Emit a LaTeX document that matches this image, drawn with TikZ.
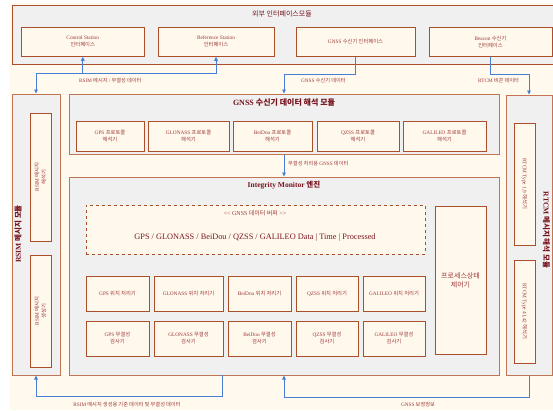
\documentclass[tikz,border=0pt]{standalone}
\usepackage{fontspec}
\setmainfont{Liberation Serif}
\newfontfamily\kr{Noto Sans CJK KR}
\usetikzlibrary{arrows.meta}
\definecolor{bgcream}{RGB}{255,249,238}
\definecolor{modfill}{RGB}{240,240,240}
\definecolor{modline}{RGB}{192,118,85}
\definecolor{boxline}{RGB}{172,78,42}
\definecolor{boxfill}{RGB}{255,248,236}
\definecolor{titlecol}{RGB}{118,18,28}
\definecolor{txtcol}{RGB}{158,58,58}
\definecolor{bluec}{RGB}{72,125,212}
\newcommand\K[1]{{\kr #1}}
\newcommand\placebox[7]{\node[#1, minimum width={(#5-#3)*1pt}, minimum height={(#6-#4)*1pt}] (#2) at ({(#3+#5)/2},{(#4+#6)/2}) {#7};}
\tikzset{
  module/.style={draw=modline, fill=modfill, line width=1pt, inner sep=0pt},
  topmodule/.style={module, draw=boxline},
  ibox/.style={draw=boxline, fill=boxfill, line width=0.9pt, inner sep=0pt, align=center, text=txtcol, font=\fontsize{5.3}{7}\selectfont},
  bigbox/.style={ibox, font=\fontsize{7}{9}\selectfont},
  bufbox/.style={draw=boxline, fill=boxfill, line width=0.7pt, dashed, inner sep=0pt},
  modtitle/.style={text=titlecol, font=\fontsize{7.5}{9}\selectfont\bfseries, inner sep=0pt},
  conn/.style={draw=bluec, line width=0.8pt, -{Triangle[length=4pt,width=3.6pt]}},
  conn2/.style={draw=bluec, line width=0.8pt, {Triangle[length=4pt,width=3.6pt]}-{Triangle[length=4pt,width=3.6pt]}},
  lbl/.style={text=txtcol, font=\fontsize{5.2}{6}\selectfont, inner sep=0pt}
}
\begin{document}
\begin{tikzpicture}[x=1pt,y=-1pt]
\useasboundingbox (0,0) rectangle (553,410);
\clip (0,0) rectangle (553,410);
\fill[bgcream] (10,3) rectangle (553,410);

% top external interface module
\placebox{topmodule}{ext}{12}{5}{560}{64}{}
\node[text=titlecol, font=\fontsize{7}{8}\selectfont, inner sep=0pt] (exttitle) at (282,14) {\K{외부 인터페이스모듈}};
\placebox{ibox}{ctrlif}{21.5}{27}{144}{56.4}{Control Station\\\K{인터페이스}}
\placebox{ibox}{refif}{158}{27}{274}{56.4}{Reference Station\\\K{인터페이스}}
\placebox{ibox}{gnssif}{296}{27}{415}{56.4}{GNSS \K{수신기 인터페이스}}
\placebox{ibox}{beaconif}{429}{27}{552}{56.4}{Beacon \K{수신기}\\\K{인터페이스}}

% RSIM module
\placebox{module}{rsimmod}{12}{94}{60}{375}{}
\node[modtitle, rotate=90] (rsimtitle) at (18,234) {RSIM \K{메시지 모듈}};
\node[ibox, rotate=90, minimum width=128pt, minimum height=21pt] (rsimdec) at (40.5,177) {RSIM \K{메시지}\\\K{해석기}};
\node[ibox, rotate=90, minimum width=112pt, minimum height=21pt] (rsimgen) at (40.5,311) {RSIM \K{메시지}\\\K{생성기}};

% RTCM module
\placebox{module}{rtcmmod}{506}{95}{552}{375}{}
\node[modtitle, rotate=-90] (rtcmtitle) at (546.5,230) {RTCM \K{메시지 해석 모듈}};
\node[ibox, rotate=-90, minimum width=122pt, minimum height=21pt] (rtcm19) at (524.5,184) {RTCM Type 1,9 \K{해석기}};
\node[ibox, rotate=-90, minimum width=103pt, minimum height=21pt] (rtcm4142) at (524.5,311.5) {RTCM Type 41,42 \K{해석기}};

% GNSS parsing module
\placebox{module}{parse}{69}{94}{499}{154}{}
\node[modtitle, font=\fontsize{8}{9}\selectfont\bfseries] (parsetitle) at (284,103) {GNSS \K{수신기 데이터 해석 모듈}};
\placebox{ibox}{pgps}{76}{121}{144}{151}{GPS \K{프로토콜}\\\K{해석기}}
\placebox{ibox}{pglo}{148}{121}{229}{151}{GLONASS \K{프로토콜}\\\K{해석기}}
\placebox{ibox}{pbds}{233}{121}{312}{151}{BeiDou \K{프로토콜}\\\K{해석기}}
\placebox{ibox}{pqzs}{317}{121}{399}{151}{QZSS \K{프로토콜}\\\K{해석기}}
\placebox{ibox}{pgal}{403}{121}{486}{151}{GALILEO \K{프로토콜}\\\K{해석기}}

% Integrity monitor
\placebox{module}{integ}{69}{177}{499}{375}{}
\node[modtitle] (integtitle) at (284,185) {Integrity Monitor \K{엔진}};
\placebox{bufbox}{buffer}{86}{205}{425}{254}{}
\node[lbl, font=\fontsize{6}{7}\selectfont] (buftitle) at (255,213) {<\kern0pt< GNSS \K{데이터 버퍼} >\kern0pt>};
\node[lbl, text=titlecol!85!txtcol, font=\fontsize{8.3}{10}\selectfont] (bufdata) at (255,238) {GPS / GLONASS / BeiDou / QZSS / GALILEO Data | Time | Processed};
\placebox{bigbox}{procctl}{435}{206}{486}{354}{\K{프로세스상태}\\\K{제어기}}

\placebox{ibox}{posgps}{86}{276}{149}{311}{GPS \K{위치 처리기}}
\placebox{ibox}{posglo}{154}{276}{223}{311}{GLONASS \K{위치 처리기}}
\placebox{ibox}{posbds}{228}{276}{291}{311}{BeiDou \K{위치 처리기}}
\placebox{ibox}{posqzs}{296}{276}{358}{311}{QZSS \K{위치 처리기}}
\placebox{ibox}{posgal}{363}{276}{425}{311}{GALILEO \K{위치 처리기}}

\placebox{ibox}{intgps}{86}{321}{149}{356}{GPS \K{무결성}\\\K{검사기}}
\placebox{ibox}{intglo}{154}{321}{223}{356}{GLONASS \K{무결성}\\\K{검사기}}
\placebox{ibox}{intbds}{228}{321}{291}{356}{BeiDou \K{무결성}\\\K{검사기}}
\placebox{ibox}{intqzs}{296}{321}{358}{356}{QZSS \K{무결성}\\\K{검사기}}
\placebox{ibox}{intgal}{363}{321}{425}{356}{GALILEO \K{무결성}\\\K{검사기}}

% connectors
\coordinate (ctrlbus) at (ctrlif.south |- 0,74);
\draw[conn2] (rsimmod.north) -- ++(0,-20) -| (refif.south);
\draw[conn] (ctrlbus) -- (ctrlif.south);
\node[lbl, anchor=west] (l1) at (79,81) {RSIM \K{메시지} / \K{무결성 데이터}};

\draw[conn] (gnssif.south) -- ++(0,17.6) -| (parse.north);
\node[lbl, anchor=west] (l2) at (301,81) {GNSS \K{수신기 데이터}};

\draw[conn] (beaconif.south) -- ++(0,17.6) -| (rtcmmod.north);
\node[lbl, anchor=west] (l3) at (478,81) {RTCM \K{비콘 데이터}};

\draw[conn] (parse.south) -- (integ.north);
\node[lbl, anchor=west] (l4) at (288,164) {\K{무결성 처리용} GNSS \K{데이터}};

\coordinate (integout) at (222,375);
\draw[conn] (integout) -- ++(0,21.5) -| (rsimmod.south);
\node[lbl] (l5) at (127,405) {RSIM \K{메시지 생성용 기준 데이터 및 무결성 데이터}};

\draw[conn] (rtcmmod.south) -- ++(0,21.5) -| (integ.south);
\node[lbl] (l6) at (418,405) {GNSS \K{보정정보}};
\end{tikzpicture}
\end{document}
